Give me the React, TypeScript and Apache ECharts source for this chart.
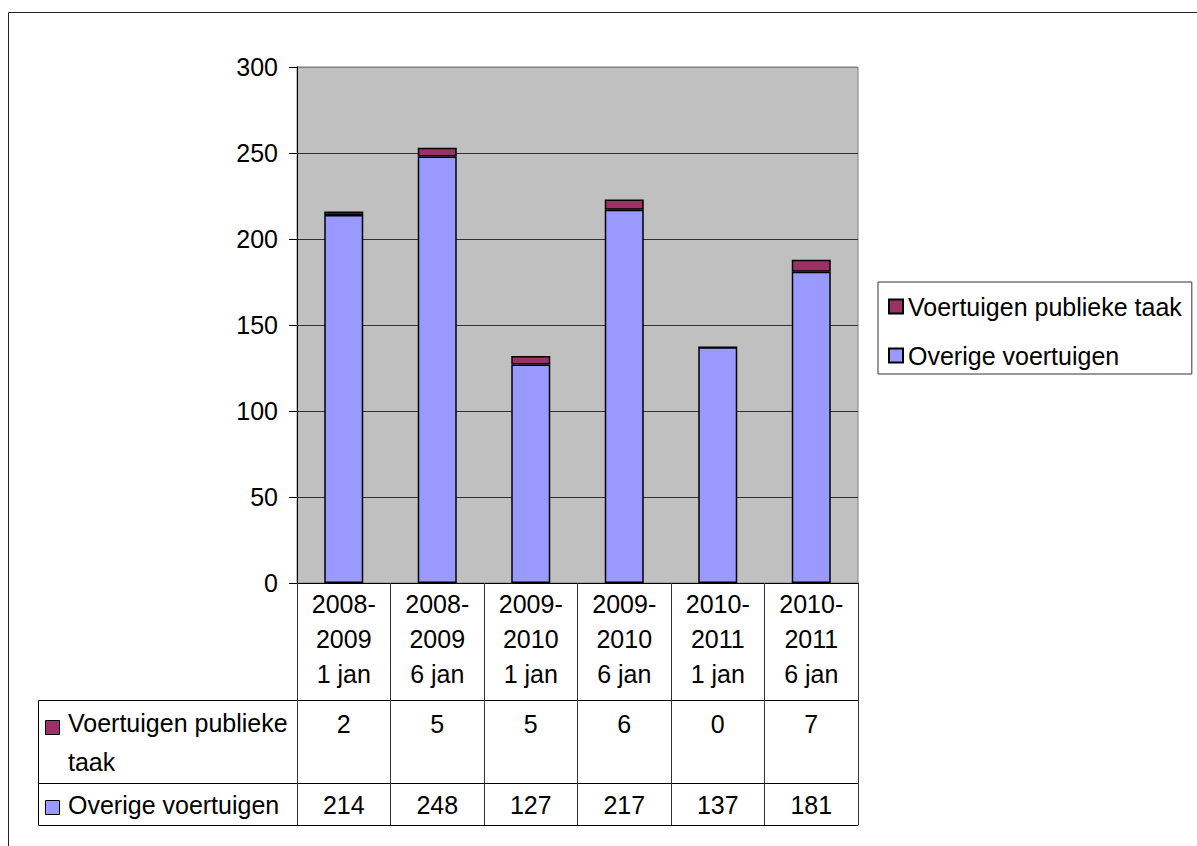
import React, { useEffect, useRef } from 'react';
import * as echarts from 'echarts';

const categories = [
  '2008-\n2009\n1 jan',
  '2008-\n2009\n6 jan',
  '2009-\n2010\n1 jan',
  '2009-\n2010\n6 jan',
  '2010-\n2011\n1 jan',
  '2010-\n2011\n6 jan',
];
const seriesNames = ['Voertuigen publieke taak', 'Overige voertuigen'];
const publiekeTaak = [2, 5, 5, 6, 0, 7];
const overigeVoertuigen = [214, 248, 127, 217, 137, 181];
const yMin = 0;
const yMax = 300;
const yInterval = 50;

const FONT = '"Liberation Sans", Arial, Helvetica, sans-serif';
const FS = 25;
const COLOR_PUB = '#993366';
const COLOR_OV = '#9999FF';

export default function App() {
  const ref = useRef<HTMLDivElement>(null);

  useEffect(() => {
    if (!ref.current) return;
    const chart = echarts.init(ref.current, undefined, { renderer: 'svg' });

    const gridLeft = 297;
    const gridTop = 67;
    const gridW = 561;
    const gridH = 516;
    const gridBottomY = gridTop + gridH; // 583
    const row1Top = 700;
    const row2Top = 783;
    const tableBottom = 825;
    const tableLeft = 38.5;

    const hLine = (y: number) => ({
      type: 'line',
      silent: true,
      shape: { x1: tableLeft, y1: y + 0.5, x2: gridLeft, y2: y + 0.5 },
      style: { stroke: '#000', lineWidth: 1 },
    });

    const option: any = {
      animation: false,
      textStyle: { fontFamily: FONT },
      grid: {
        left: gridLeft,
        top: gridTop,
        width: gridW,
        height: gridH,
        show: true,
        backgroundColor: '#C0C0C0',
        borderColor: '#808080',
        borderWidth: 1,
      },
      legend: {
        orient: 'vertical',
        left: 878,
        top: 282,
        data: seriesNames,
        icon: 'rect',
        itemWidth: 14,
        itemHeight: 14,
        itemGap: 22,
        padding: [11, 10, 5, 10],
        borderColor: '#333',
        borderWidth: 1,
        textStyle: { fontSize: FS, color: '#000', fontFamily: FONT, lineHeight: 27 },
      },
      xAxis: [
        {
          type: 'category',
          data: categories,
          position: 'bottom',
          axisLine: { show: true, lineStyle: { color: '#000', width: 1 } },
          axisTick: { show: true, length: row1Top - gridBottomY, interval: 0, lineStyle: { color: '#333' } },
          axisLabel: { interval: 0, fontSize: FS, lineHeight: 35, margin: 3, color: '#000', fontFamily: FONT },
          splitLine: { show: false },
        },
        {
          type: 'category',
          data: publiekeTaak.map(String),
          position: 'bottom',
          offset: row1Top - gridBottomY,
          axisLine: { show: true, lineStyle: { color: '#000', width: 1 } },
          axisTick: { show: true, length: row2Top - row1Top, interval: 0, lineStyle: { color: '#333' } },
          axisLabel: { interval: 0, fontSize: FS, lineHeight: 35, margin: 6, color: '#000', fontFamily: FONT },
        },
        {
          type: 'category',
          data: overigeVoertuigen.map(String),
          position: 'bottom',
          offset: row2Top - gridBottomY,
          axisLine: { show: true, lineStyle: { color: '#000', width: 1 } },
          axisTick: { show: true, length: tableBottom - row2Top, interval: 0, lineStyle: { color: '#333' } },
          axisLabel: { interval: 0, fontSize: FS, lineHeight: 35, margin: 4, color: '#000', fontFamily: FONT },
        },
        {
          type: 'category',
          data: categories,
          position: 'bottom',
          offset: tableBottom - gridBottomY,
          axisLine: { show: true, lineStyle: { color: '#000', width: 1 } },
          axisTick: { show: false },
          axisLabel: { show: false },
        },
      ],
      yAxis: {
        type: 'value',
        min: yMin,
        max: yMax,
        interval: yInterval,
        axisLine: { show: true, lineStyle: { color: '#000', width: 1 } },
        axisTick: { show: true, length: 8, lineStyle: { color: '#000' } },
        axisLabel: { fontSize: FS, color: '#000', margin: 19, fontFamily: FONT },
        splitLine: {
          show: true,
          lineStyle: {
            color: ['#303030', '#303030', '#303030', '#303030', '#303030', '#303030', '#808080'],
            width: 1,
          },
        },
      },
      series: [
        {
          name: seriesNames[1],
          type: 'bar',
          stack: 'total',
          data: overigeVoertuigen,
          barWidth: 39,
          itemStyle: { color: COLOR_OV, borderColor: '#000', borderWidth: 1.5 },
        },
        {
          name: seriesNames[0],
          type: 'bar',
          stack: 'total',
          data: publiekeTaak,
          barWidth: 39,
          itemStyle: { color: COLOR_PUB, borderColor: '#000', borderWidth: 1.5 },
        },
      ],
      graphic: [
        {
          type: 'rect',
          silent: true,
          z: -10,
          shape: { x: 8.5, y: 12.5, width: 1400, height: 1000 },
          style: { fill: 'none', stroke: '#222', lineWidth: 1 },
        },
        hLine(row1Top),
        hLine(row2Top),
        hLine(tableBottom),
        {
          type: 'line',
          silent: true,
          shape: { x1: tableLeft, y1: row1Top + 0.5, x2: tableLeft, y2: tableBottom + 0.5 },
          style: { stroke: '#000', lineWidth: 1 },
        },
        {
          type: 'rect',
          silent: true,
          shape: { x: 45.5, y: 720.5, width: 14, height: 14 },
          style: { fill: COLOR_PUB, stroke: '#000', lineWidth: 1 },
        },
        {
          type: 'text',
          silent: true,
          x: 68,
          y: 703,
          style: {
            text: seriesNames[0],
            width: 235,
            overflow: 'break',
            font: `${FS}px ${FONT}`,
            lineHeight: 39,
            fill: '#000',
            verticalAlign: 'top',
          },
        },
        {
          type: 'rect',
          silent: true,
          shape: { x: 45.5, y: 800.5, width: 14, height: 14 },
          style: { fill: COLOR_OV, stroke: '#000', lineWidth: 1 },
        },
        {
          type: 'text',
          silent: true,
          x: 68,
          y: 805,
          style: {
            text: seriesNames[1],
            font: `${FS}px ${FONT}`,
            fill: '#000',
            verticalAlign: 'middle',
          },
        },
      ],
    };

    chart.setOption(option);
    return () => chart.dispose();
  }, []);

  return (
    <div
      ref={ref}
      style={{ position: 'absolute', left: 0, top: 0, width: 1197, height: 846, background: '#fff' }}
    />
  );
}
